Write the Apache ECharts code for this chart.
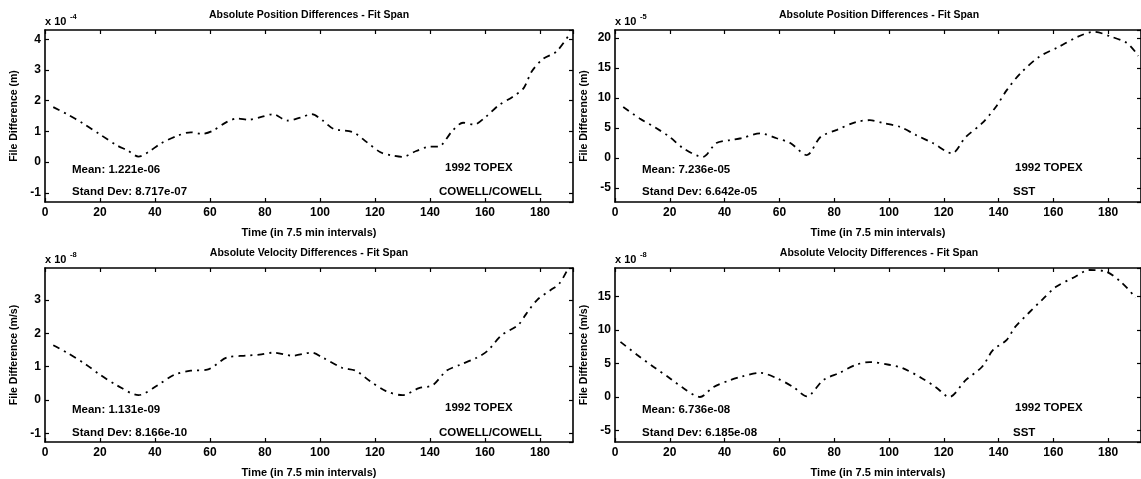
<!DOCTYPE html>
<html>
<head>
<meta charset="utf-8">
<script src="https://cdn.jsdelivr.net/npm/echarts@6/dist/echarts.min.js"></script>
<style>
  html, body { margin: 0; background: #fff; }
  #chart { width: 1141px; height: 479px; }
</style>
</head>
<body>
<div id="chart"></div>
<script>
// values, in the units shown on each axis (scaled by the x 10^n factor)
const posCowell = [
  [3, 1.79], [8, 1.56], [14, 1.25], [20, 0.9], [26, 0.55], [30, 0.38], [34, 0.18], [38, 0.35],
  [42, 0.6], [48, 0.85], [53, 0.97], [57, 0.92], [61, 1.02], [66, 1.3], [70, 1.42], [74, 1.38],
  [79, 1.48], [83, 1.56], [88, 1.35], [93, 1.45], [97, 1.56], [101, 1.35], [105, 1.08], [112, 0.97],
  [117, 0.65], [122, 0.32], [126, 0.22], [130, 0.17], [135, 0.36], [140, 0.5], [143, 0.5], [148, 1.0],
  [152, 1.28], [156, 1.22], [160, 1.45], [165, 1.85], [170, 2.12], [174, 2.4], [177, 2.95],
  [181, 3.35], [186, 3.6], [191, 4.2]
];
const posSst = [
  [3, 8.5], [9, 6.6], [15, 5.0], [20, 3.5], [25, 1.6], [32, 0.2], [37, 2.5], [42, 3.0], [46, 3.3],
  [53, 4.1], [59, 3.3], [64, 2.5], [70, 0.5], [75, 3.5], [81, 4.7], [88, 6.0], [93, 6.3], [98, 5.8],
  [104, 5.2], [110, 3.8], [116, 2.5], [123, 0.8], [128, 3.5], [134, 5.8], [139, 8.5], [143, 11.3],
  [148, 14.1], [155, 16.9], [162, 18.5], [169, 20.2], [175, 21.0], [181, 20.2], [187, 19.1], [191, 17.0]
];
const velCowell = [
  [3, 1.64], [8, 1.42], [15, 1.06], [20, 0.76], [26, 0.45], [34, 0.15], [41, 0.45], [47, 0.76],
  [53, 0.88], [59, 0.91], [66, 1.27], [73, 1.33], [78, 1.36], [83, 1.42], [90, 1.33], [97, 1.42],
  [101, 1.27], [108, 0.97], [113, 0.88], [118, 0.58], [124, 0.27], [130, 0.15], [136, 0.36],
  [141, 0.45], [146, 0.88], [151, 1.06], [157, 1.27], [161, 1.48], [166, 1.94], [172, 2.24],
  [175, 2.58], [179, 3.0], [184, 3.3], [187, 3.48], [190, 3.9]
];
const velSst = [
  [2, 8.2], [8, 6.3], [14, 4.5], [20, 2.8], [25, 1.3], [31, 0.0], [36, 1.5], [42, 2.5], [46, 3.0],
  [53, 3.6], [59, 2.8], [65, 1.5], [70, 0.1], [76, 2.5], [82, 3.6], [88, 4.8], [93, 5.2], [100, 4.8],
  [105, 4.3], [112, 2.8], [117, 1.5], [122, 0.0], [128, 2.5], [134, 4.5], [138, 7.0], [143, 8.5],
  [146, 10.4], [151, 12.5], [156, 14.5], [161, 16.4], [168, 17.9], [173, 18.9], [179, 18.7],
  [185, 17.0], [190, 14.8]
];

const panelTitles = [
  'Absolute Position Differences - Fit Span',
  'Absolute Position Differences - Fit Span',
  'Absolute Velocity Differences - Fit Span',
  'Absolute Velocity Differences - Fit Span'
];
const yNames = ['File Difference (m)', 'File Difference (m)', 'File Difference (m/s)', 'File Difference (m/s)'];
const exponents = ['-4', '-5', '-8', '-8'];
const meanTexts = ['Mean: 1.221e-06', 'Mean: 7.236e-05', 'Mean: 1.131e-09', 'Mean: 6.736e-08'];
const sdTexts = ['Stand Dev: 8.717e-07', 'Stand Dev: 6.642e-05', 'Stand Dev: 8.166e-10', 'Stand Dev: 6.185e-08'];
const caseTexts = ['COWELL/COWELL', 'SST', 'COWELL/COWELL', 'SST'];
const yearText = '1992 TOPEX';
const xName = 'Time (in 7.5 min intervals)';
const xRange = [0, 192];
const yRanges = [[-1.3, 4.3], [-7.3, 21.3], [-1.25, 3.95], [-6.7, 19.2]];
const ySteps = [1, 5, 1, 5];
const seriesData = [posCowell, posSst, velCowell, velSst];

const FONT = "'Liberation Sans', Arial, sans-serif";
const grids = [
  { left: 45, top: 30, width: 528, height: 172 },
  { left: 615, top: 30, width: 526, height: 172 },
  { left: 45, top: 268, width: 528, height: 174 },
  { left: 615, top: 268, width: 526, height: 174 }
];

function stepLabel(step) {
  return v => (Math.abs(v / step - Math.round(v / step)) < 1e-6 ? String(Math.round(v / step) * step) : '');
}

const lineCol = '#000';
const xAxes = [], yAxes = [], series = [], graphics = [];

grids.forEach((g, i) => {
  const tick = { show: true, inside: true, length: 4, lineStyle: { color: lineCol, width: 1.2 } };
  const axisLine = { show: true, onZero: false, lineStyle: { color: lineCol, width: 1.6 } };
  const lbl = { color: '#000', fontFamily: FONT, fontWeight: 'bold', fontSize: 12 };
  xAxes.push({
    type: 'value', gridIndex: i, min: xRange[0], max: xRange[1], splitNumber: 10,
    axisLine, axisTick: tick, splitLine: { show: false },
    axisLabel: Object.assign({ margin: 5, showMaxLabel: false, formatter: stepLabel(20) }, lbl),
    name: xName, nameLocation: 'middle', nameGap: 25,
    nameTextStyle: { color: '#000', fontFamily: FONT, fontWeight: 'bold', fontSize: 11 }
  });
  xAxes.push({
    type: 'value', gridIndex: i, position: 'top', min: xRange[0], max: xRange[1], splitNumber: 10,
    axisLine, axisTick: tick, axisLabel: { show: false }, splitLine: { show: false }
  });
  const [ymin, ymax] = yRanges[i];
  const split = Math.round((ymax - ymin) / ySteps[i]);
  yAxes.push({
    type: 'value', gridIndex: i, min: ymin, max: ymax, splitNumber: split,
    axisLine, axisTick: tick, splitLine: { show: false },
    axisLabel: Object.assign({ margin: 4, showMinLabel: false, showMaxLabel: false, formatter: stepLabel(ySteps[i]) }, lbl),
    name: yNames[i], nameLocation: 'middle', nameGap: 25, nameRotate: 90,
    nameTextStyle: { color: '#000', fontFamily: FONT, fontWeight: 'bold', fontSize: 10.5 }
  });
  yAxes.push({
    type: 'value', gridIndex: i, position: 'right', min: ymin, max: ymax, splitNumber: split,
    axisLine, axisTick: tick, axisLabel: { show: false }, splitLine: { show: false }
  });
  series.push({
    type: 'line', xAxisIndex: 2 * i, yAxisIndex: 2 * i, data: seriesData[i],
    showSymbol: false, smooth: 0.3, clip: true,
    lineStyle: { color: '#000', width: 1.8, type: [7, 5, 2, 5] }
  });

  // text placed around each panel
  const txt = (text, x, y, size, align) => ({
    type: 'text', x, y,
    style: { text, fill: '#000', fontFamily: FONT, fontWeight: 'bold', fontSize: size, align: align || 'left', verticalAlign: 'middle' }
  });
  const row = i < 2 ? 0 : 1;
  const titleY = row === 0 ? 15 : 253;
  graphics.push(txt(panelTitles[i], g.left + 264, titleY, 10.5, 'center'));
  graphics.push(txt('x 10', g.left, g.top - 8, 11));
  graphics.push(txt(exponents[i], g.left + 25, g.top - 13, 7.5));
  const y1 = g.top + (row === 0 ? 140 : 142);
  const y2 = g.top + (row === 0 ? 162 : 165);
  graphics.push(txt(meanTexts[i], g.left + 27, y1, 11.5));
  graphics.push(txt(sdTexts[i], g.left + 27, y2, 11.5));
  graphics.push(txt(yearText, g.left + 400, y1 - 2, 11.5));
  graphics.push(txt(caseTexts[i], i % 2 === 0 ? g.left + 394 : g.left + 398, y2, 11.5));
});

const chart = echarts.init(document.getElementById('chart'), null, { renderer: 'canvas' });
chart.setOption({
  backgroundColor: '#fff',
  animation: false,
  grid: grids,
  xAxis: xAxes,
  yAxis: yAxes,
  series,
  graphic: graphics
});
</script>
</body>
</html>
